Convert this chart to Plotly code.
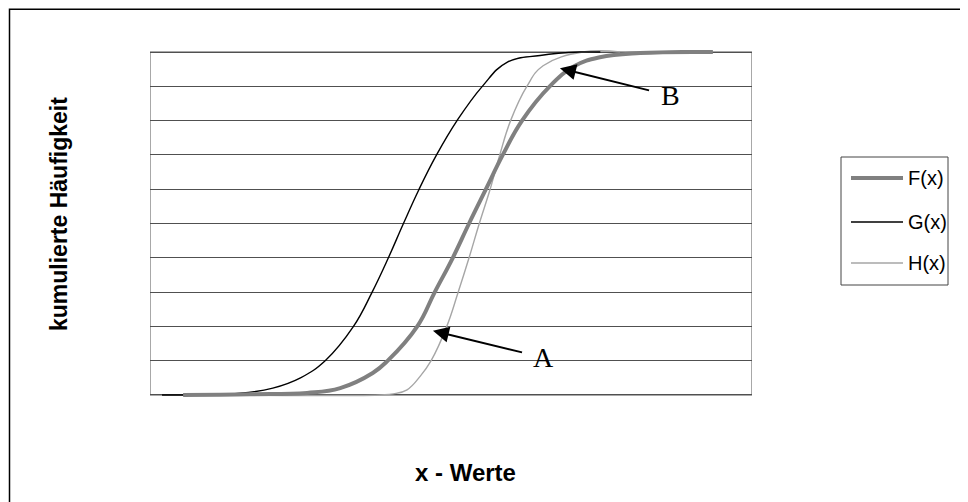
import plotly.graph_objects as go

# ---- data (x in arbitrary units 0..100, y = cumulative frequency) ----
f_x = [5.5, 16.6, 26.1, 31.6, 37.0, 39.5, 44.4, 47.3, 50.3, 53.0, 55.8, 58.6, 61.8, 66.4, 70.6, 74.75, 81.4, 93.5]
f_y = [0.0, 0.002, 0.006, 0.02, 0.064, 0.1, 0.2, 0.3, 0.4, 0.5, 0.6, 0.7, 0.8, 0.9, 0.96, 0.985, 0.997, 1.0]

g_x = [2.0, 15.0, 20.4, 25.0, 29.1, 33.8, 36.9, 39.6, 42.1, 44.7, 47.6, 51.0, 55.2, 59.3, 64.8, 71.4, 74.8]
g_y = [0.0, 0.005, 0.02, 0.05, 0.1, 0.2, 0.3, 0.4, 0.5, 0.6, 0.7, 0.8, 0.9, 0.97, 0.99, 1.0, 1.0]

h_x = [5.5, 38.2, 40.4, 42.7, 44.9, 46.7, 49.3, 51.2, 53.0, 54.7, 56.5, 58.1, 59.9, 62.6, 65.3, 71.9, 78.1]
h_y = [0.0, 0.0, 0.003, 0.015, 0.055, 0.1, 0.2, 0.3, 0.4, 0.5, 0.6, 0.7, 0.8, 0.9, 0.96, 1.0, 1.0]

series_names = ["F(x)", "G(x)", "H(x)"]
x_title = "x - Werte"
y_title = "kumulierte Häufigkeit"

F_COL, G_COL, H_COL = "#808080", "#000000", "#a6a6a6"
SM = 1.2

fig = go.Figure()
fig.add_trace(go.Scatter(x=h_x, y=h_y, mode="lines", name=series_names[2],
                         line=dict(color=H_COL, width=1.4, shape="spline", smoothing=SM)))
fig.add_trace(go.Scatter(x=g_x, y=g_y, mode="lines", name=series_names[1],
                         line=dict(color=G_COL, width=1.4, shape="spline", smoothing=SM)))
fig.add_trace(go.Scatter(x=f_x, y=f_y, mode="lines", name=series_names[0],
                         line=dict(color=F_COL, width=4, shape="spline", smoothing=SM)))

# page pixel -> paper coordinates (plot area: x 150..752, y 50..397 on the page)
def px(v):
    return (v - 150) / 602.0

def py(v):
    return (397 - v) / 347.0

shapes = [
    dict(type="rect", xref="x", yref="y", x0=0, x1=100, y0=0, y1=1,
         line=dict(color="#8c8c8c", width=1.5), layer="below"),
    dict(type="rect", xref="paper", yref="paper", x0=px(9.5), x1=px(990), y0=py(520), y1=py(9.2),
         line=dict(color="black", width=1.5)),
    dict(type="rect", xref="paper", yref="paper", x0=px(841), x1=px(948), y0=py(285), y1=py(157),
         line=dict(color="#444444", width=1)),
]
leg_y = [178, 222, 263]
leg_style = [(F_COL, 4), (G_COL, 1.4), (H_COL, 1.4)]
annotations = []
for name, yy, (c, w) in zip(series_names, leg_y, leg_style):
    shapes.append(dict(type="line", xref="paper", yref="paper", x0=px(851), x1=px(903),
                       y0=py(yy), y1=py(yy), line=dict(color=c, width=w)))
    annotations.append(dict(xref="paper", yref="paper", x=px(906), y=py(yy), text=name,
                            showarrow=False, xanchor="left", yanchor="middle",
                            font=dict(family="Liberation Sans, Arial", size=20, color="black")))

annotations.append(dict(xref="paper", yref="paper", x=px(465.5), y=py(472), text="<b>%s</b>" % x_title,
                        showarrow=False, xanchor="center", yanchor="middle",
                        font=dict(family="Liberation Sans, Arial", size=24, color="black")))
annotations.append(dict(xref="paper", yref="paper", x=px(59), y=py(214), text="<b>%s</b>" % y_title,
                        showarrow=False, textangle=-90, xanchor="center", yanchor="middle",
                        font=dict(family="Liberation Sans, Arial", size=23, color="black")))

annotations.append(dict(xref="x", yref="y", axref="x", ayref="y", x=47.0, y=0.187, ax=62.3, ay=0.122,
                        text=" ", showarrow=True, arrowhead=2, arrowsize=1.6, arrowwidth=2,
                        arrowcolor="black", standoff=0, startstandoff=0))
annotations.append(dict(xref="x", yref="y", x=65.4, y=0.11, text="A", showarrow=False,
                        font=dict(family="Liberation Serif, Times New Roman", size=28, color="black")))
annotations.append(dict(xref="x", yref="y", axref="x", ayref="y", x=68.1, y=0.953, ax=83.4, ay=0.886,
                        text=" ", showarrow=True, arrowhead=2, arrowsize=1.6, arrowwidth=2,
                        arrowcolor="black", standoff=0, startstandoff=0))
annotations.append(dict(xref="x", yref="y", x=86.4, y=0.872, text="B", showarrow=False,
                        font=dict(family="Liberation Serif, Times New Roman", size=28, color="black")))

# the page adds an 8px body margin, so the figure is 8px smaller and margins are shifted
fig.update_layout(
    width=960, height=494,
    margin=dict(l=142, r=216, t=42, b=105),
    paper_bgcolor="white", plot_bgcolor="white",
    showlegend=False,
    shapes=shapes, annotations=annotations,
    xaxis=dict(range=[0, 100], showgrid=False, zeroline=False, showticklabels=False, ticks="", showline=False),
    yaxis=dict(range=[-0.006, 1.006], showgrid=True, gridcolor="#505050", gridwidth=1, tick0=0, dtick=0.1,
               zeroline=False, showticklabels=False, ticks="", showline=False),
)

fig.write_html("out.html")
